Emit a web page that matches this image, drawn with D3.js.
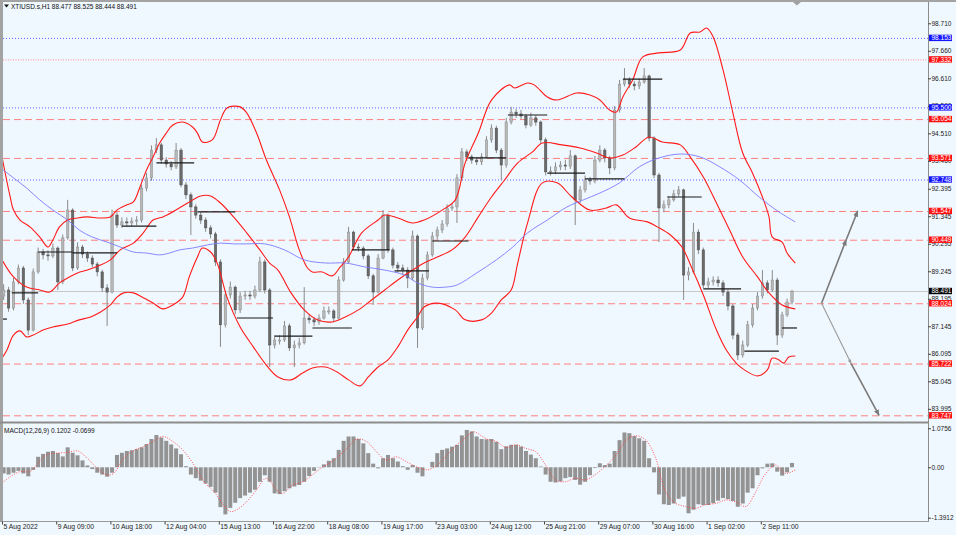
<!DOCTYPE html>
<html>
<head>
<meta charset="utf-8">
<script src="https://cdnjs.cloudflare.com/ajax/libs/d3/7.8.5/d3.min.js"></script>
<style>
	body { margin: 0; background: #f0f8ff; overflow: hidden; }
	text { font-family: "Liberation Sans", Arial, sans-serif; }
</style>
</head>
<body>
<div id="chart"></div>
<script>

// candles: one per 3 hourly bars (bar index = 3k+1)
var firstOpen = 88.30
var closes = [88.53,87.84,88.84,89.37,88.15,87.00,89.22,89.98,89.87,89.83,
	90.13,88.84,90.52,91.58,89.37,90.17,89.90,89.75,89.52,89.22,
	88.61,88.45,91.39,91.01,91.13,91.09,91.16,91.20,92.42,92.81,
	93.87,94.07,93.49,93.34,93.23,93.87,92.54,92.16,91.70,91.39,
	91.20,90.90,90.67,89.60,87.20,88.34,88.64,87.77,88.30,88.34,
	88.30,88.53,89.60,88.53,86.43,86.62,86.62,87.16,86.32,86.43,
	86.51,87.46,87.39,87.31,87.46,87.73,87.73,87.46,88.91,89.60,
	90.74,90.17,90.13,89.83,89.07,88.45,89.75,91.39,90.06,89.48,
	89.37,89.29,88.99,90.59,87.08,88.99,89.87,90.59,90.82,91.05,
	91.66,91.70,92.81,93.80,93.61,93.49,93.42,93.61,94.26,94.71,
	93.87,93.30,94.94,95.32,95.25,95.17,94.83,95.10,94.94,94.26,
	93.04,93.07,93.23,93.30,93.26,93.65,91.97,92.35,92.73,92.69,
	93.49,93.87,93.57,93.19,95.40,96.39,96.55,96.39,96.32,96.47,
	96.70,94.33,92.92,91.66,91.78,91.97,92.20,92.35,89.10,89.22,
	90.74,90.06,88.72,88.84,88.91,88.80,88.45,87.92,86.81,86.05,
	86.43,87.20,87.84,88.30,88.80,88.53,88.91,86.81,87.58,88.07,
	88.49]
var highs = [88.75,88.65,89.00,89.50,89.45,88.25,89.35,90.15,90.10,90.05,
	90.30,90.20,90.65,91.97,91.65,90.35,90.25,90.00,89.85,89.60,
	89.30,88.75,91.60,91.50,91.30,91.30,91.30,91.35,92.55,93.00,
	94.05,94.33,94.15,93.60,93.45,94.14,93.95,92.65,92.25,91.80,
	91.50,91.30,91.00,90.75,89.70,88.50,88.85,88.70,88.45,88.50,
	88.50,88.70,89.80,89.70,88.60,86.80,86.80,87.35,87.25,86.60,
	86.70,88.64,87.60,87.50,87.60,87.90,87.90,87.80,89.05,89.75,
	90.94,90.80,90.30,90.20,89.90,89.15,89.90,91.58,91.45,90.15,
	89.60,89.50,89.40,90.80,90.65,89.15,90.00,90.75,90.95,91.20,
	91.80,91.85,92.95,93.95,93.90,93.70,93.60,93.75,94.40,94.85,
	94.80,93.95,95.10,95.52,95.45,95.40,95.25,95.30,95.20,95.00,
	94.35,93.25,93.40,93.45,93.50,93.87,93.70,92.50,92.90,92.85,
	93.65,94.05,93.95,93.65,95.55,96.55,97.00,96.65,96.50,96.60,
	97.00,96.75,94.40,93.00,91.95,92.10,92.35,92.50,92.40,89.40,
	91.09,90.85,90.15,89.00,89.05,89.05,88.90,88.55,88.00,86.90,
	86.60,87.35,88.00,88.45,89.29,88.90,89.29,89.00,87.70,88.20,
	88.53]
var lows = [88.15,87.70,87.75,88.75,88.00,86.81,86.95,89.15,89.70,89.65,
	89.75,88.53,88.75,90.45,89.25,89.30,89.75,89.60,89.40,89.05,
	88.45,87.16,88.40,90.90,90.90,90.95,90.95,91.00,91.10,92.30,
	92.70,93.75,93.35,93.20,93.10,93.15,92.45,92.00,90.63,91.25,
	91.05,90.75,90.50,89.45,86.36,87.10,88.20,87.60,87.65,88.15,
	88.15,88.20,88.45,88.40,85.59,86.30,86.45,86.55,86.20,85.59,
	86.30,86.45,87.25,87.15,87.20,87.40,87.60,87.30,87.40,88.85,
	89.55,90.05,90.00,89.70,88.95,87.96,88.40,89.70,89.95,89.35,
	89.20,89.10,88.60,88.90,86.32,87.00,88.90,89.80,90.45,90.70,
	90.95,91.55,91.09,92.70,93.45,93.35,93.30,93.30,93.55,94.15,
	93.75,92.73,93.20,94.85,95.10,95.05,94.70,94.75,94.80,94.10,
	92.90,92.90,92.95,93.10,93.10,93.15,91.01,91.85,92.25,92.55,
	92.60,93.40,93.40,92.95,93.10,95.30,96.30,96.25,96.15,96.20,
	96.40,94.20,92.80,90.36,91.50,91.65,91.90,92.10,88.15,88.90,
	89.15,89.90,88.60,88.60,88.70,88.65,88.30,87.75,86.65,85.86,
	85.95,86.35,87.10,87.75,88.20,88.40,88.45,86.43,86.70,87.50,
	87.98]

// MACD histogram, same candles
var macd = [-0.17,-0.20,-0.15,-0.10,-0.17,-0.25,-0.07,0.29,0.37,0.43,
	0.45,0.39,0.30,0.55,0.40,0.33,0.19,0.05,-0.05,-0.15,
	-0.20,-0.26,-0.15,0.34,0.40,0.45,0.47,0.50,0.55,0.64,
	0.78,0.89,0.82,0.73,0.63,0.52,0.36,0.03,-0.20,-0.30,
	-0.37,-0.45,-0.54,-0.70,-1.10,-1.30,-1.12,-0.98,-0.85,-0.78,
	-0.70,-0.62,-0.40,-0.22,-0.40,-0.72,-0.74,-0.66,-0.58,-0.53,
	-0.49,-0.40,-0.24,-0.10,0.01,0.08,0.18,0.25,0.48,0.73,
	0.85,0.85,0.78,0.66,0.39,0.10,-0.03,0.25,0.34,0.25,
	0.16,0.03,-0.07,0.06,-0.15,-0.25,0.00,0.15,0.39,0.48,
	0.52,0.57,0.62,0.88,1.03,0.99,0.85,0.78,0.77,0.78,
	0.70,0.50,0.58,0.62,0.62,0.57,0.45,0.35,0.25,0.02,
	-0.20,-0.40,-0.42,-0.39,-0.30,-0.27,-0.35,-0.48,-0.40,-0.22,
	-0.02,0.11,0.06,0.10,0.45,0.75,0.96,0.94,0.86,0.80,
	0.73,0.25,-0.14,-0.75,-1.02,-1.04,-1.00,-0.87,-0.81,-1.27,
	-1.17,-1.02,-1.04,-1.04,-0.99,-0.92,-0.85,-0.88,-0.93,-1.09,
	-1.00,-0.70,-0.58,-0.22,-0.03,0.10,0.11,-0.12,-0.23,-0.14,
	0.12]

// [hourly bar, value]
var signal = [[0,-0.44],[5,-0.26],[11,-0.12],[17,-0.12],[21,0.06],[27,0.34],[33,0.39],[40,0.41],[46,0.45],[52,0.25],[58,-0.03],[64,-0.21],[68,-0.17],[74,0.25],[80,0.46],[86,0.57],[92,0.71],[98,0.85],[104,0.71],[110,0.48],[117,0.06],[123,-0.40],[129,-0.67],[135,-1.04],[139,-1.22],[143,-1.17],[149,-0.95],[155,-0.62],[161,-0.30],[167,-0.62],[171,-0.72],[177,-0.49],[183,-0.40],[189,-0.21],[194,-0.03],[201,0.16],[210,0.52],[216,0.78],[222,0.71],[228,0.43],[234,0.20],[240,0.29],[246,0.16],[252,0.02],[259,-0.07],[265,0.06],[271,0.34],[277,0.62],[283,0.85],[287,0.98],[295,0.78],[301,0.71],[307,0.54],[313,0.62],[319,0.52],[325,0.43],[331,0.06],[337,-0.35],[343,-0.40],[349,-0.30],[355,-0.35],[361,-0.21],[368,0.06],[374,0.34],[380,0.75],[386,0.87],[392,0.75],[398,0.25],[404,-0.67],[410,-0.99],[416,-1.08],[422,-1.13],[428,-1.04],[435,-0.99],[441,-0.90],[447,-0.96],[453,-1.08],[459,-0.67],[465,-0.17],[471,0.06],[477,-0.17],[483,-0.07]]

var bandUpper = [[0,93.61],[5,92.08],[7,91.58],[11,91.20],[17,90.94],[23,90.55],[28,90.17],[31,90.44],[35,90.94],[40,91.20],[46,91.28],[52,91.32],[60,91.28],[66,91.32],[70,91.58],[76,91.78],[80,91.89],[84,92.46],[88,93.11],[92,93.61],[96,94.14],[100,94.52],[104,94.83],[110,94.94],[116,94.75],[119,94.52],[122,94.18],[128,94.26],[133,95.02],[137,95.48],[145,95.52],[149,95.29],[155,94.52],[161,93.49],[169,92.35],[175,91.32],[181,90.06],[186,89.37],[189,89.22],[195,89.22],[201,89.07],[206,89.41],[211,89.79],[219,90.71],[229,91.20],[233,91.39],[241,91.28],[250,91.09],[257,91.20],[268,91.58],[276,91.97],[282,93.38],[290,94.52],[298,95.78],[309,96.36],[312,96.24],[320,96.43],[324,96.36],[332,95.90],[338,95.78],[350,96.05],[358,95.97],[364,95.78],[370,95.40],[374,95.32],[378,95.90],[384,96.55],[390,97.42],[400,97.58],[413,97.69],[419,98.34],[425,98.38],[429,98.53],[433,98.19],[439,96.93],[445,95.29],[451,93.76],[457,92.99],[463,92.08],[467,91.32],[469,90.55],[475,90.36],[478,89.94],[483,89.56]]
var bandMiddle = [[0,89.68],[7,89.03],[15,88.64],[23,88.53],[29,88.45],[35,88.80],[40,88.99],[46,89.18],[52,89.29],[60,89.48],[66,89.68],[72,90.06],[80,90.32],[86,90.71],[92,91.20],[98,91.32],[104,91.51],[113,91.85],[121,92.12],[127,92.12],[133,91.85],[141,91.32],[149,90.71],[157,90.06],[163,89.56],[168,89.29],[176,88.42],[184,87.77],[192,87.39],[201,87.31],[209,87.50],[217,87.77],[225,88.15],[233,88.53],[241,88.91],[250,89.29],[257,89.56],[265,89.79],[274,90.06],[282,90.55],[290,91.32],[298,92.08],[306,92.73],[314,93.38],[323,93.80],[329,94.14],[341,94.07],[352,93.95],[362,93.76],[370,93.57],[378,93.68],[386,93.99],[394,94.37],[402,94.18],[413,94.07],[419,93.61],[427,92.84],[435,91.85],[443,90.82],[451,89.79],[460,89.03],[467,88.42],[475,87.96],[483,87.81]]
var bandLower = [[0,85.93],[3,86.24],[7,86.81],[11,86.97],[15,86.74],[19,86.81],[25,87.00],[31,87.12],[40,87.23],[47,87.39],[54,87.50],[60,87.69],[66,87.96],[70,88.26],[74,88.42],[80,88.42],[86,88.23],[92,88.03],[98,87.81],[104,87.96],[110,88.26],[114,89.03],[119,89.79],[122,90.13],[127,89.98],[131,89.56],[137,88.26],[145,87.12],[153,86.36],[160,85.74],[168,85.21],[176,85.10],[183,85.36],[189,85.55],[197,85.59],[204,85.40],[211,85.10],[218,84.87],[223,85.21],[229,85.59],[235,85.86],[241,86.36],[247,87.00],[253,87.50],[257,87.88],[265,88.03],[276,87.77],[282,87.39],[292,87.39],[298,87.65],[304,88.15],[310,88.53],[314,89.56],[320,91.09],[329,92.62],[338,92.62],[347,92.08],[358,91.58],[368,91.66],[374,91.78],[382,91.28],[393,91.13],[399,90.94],[407,90.63],[414,90.17],[420,89.37],[427,88.34],[435,87.00],[441,86.24],[447,85.74],[452,85.48],[460,85.25],[466,85.48],[469,85.93],[473,85.86],[476,85.74],[479,85.97],[483,86.01]]
var movingAvg = [[0,93.15],[7,92.81],[15,92.42],[23,91.97],[31,91.58],[40,91.20],[47,90.82],[55,90.55],[64,90.36],[72,90.17],[80,89.98],[88,89.94],[96,89.87],[102,89.94],[108,90.06],[116,90.13],[125,90.25],[133,90.32],[141,90.29],[149,90.29],[160,90.29],[172,90.06],[184,89.68],[197,89.56],[209,89.56],[221,89.41],[233,89.29],[245,89.10],[253,88.80],[262,88.64],[270,88.64],[277,88.72],[289,89.18],[301,89.68],[311,90.17],[320,90.71],[332,91.20],[344,91.70],[354,91.97],[364,92.23],[376,92.62],[388,93.23],[400,93.57],[413,93.72],[425,93.61],[437,93.23],[449,92.73],[461,92.08],[473,91.51],[483,91.13]]

// daily level segments
var stepStart = [0,6,22,43,73,94,119,143,166,189,213,239,262,284,308,332,355,378,405,427,452,475]
var stepEnd   = [3,22,43,70,94,117,142,165,189,213,236,260,284,307,332,355,379,402,426,450,473,484]
var stepLevel = [87.42,88.42,89.98,89.95,90.97,93.38,91.51,87.46,86.77,87.08,90.06,89.26,90.40,93.57,95.21,92.99,92.77,96.58,92.08,88.57,86.20,87.08]

// horizontal levels
var levelVals  = [98.153, 97.332, 95.500, 95.054, 93.571, 92.748, 91.547, 90.449, 88.024, 85.722, 83.747]
var levelKinds = ["blue", "pink", "blue", "red", "red", "blue", "red", "red", "red", "red", "red"]
var lastPrice = 88.491

// projection arrows
var projBars = [499, 514, 521]
var projUp = [88.024, 90.449, 91.547]
var projDownBars = [499, 517, 534]
var projDown = [88.024, 85.722, 83.747]

var priceTicks = [98.710, 97.660, 96.610, 95.560, 94.510, 93.460, 92.395, 91.345, 90.295, 89.245, 88.195, 87.145, 86.095, 85.045, 83.995]
var timeTicks = [0, 33, 66, 99, 132, 165, 198, 231, 264, 297, 330, 363, 396, 429, 462]
var timeLabels = ["5 Aug 2022", "9 Aug 09:00", "10 Aug 18:00", "12 Aug 04:00", "15 Aug 13:00", "16 Aug 22:00", "18 Aug 08:00", "19 Aug 17:00", "23 Aug 03:00", "24 Aug 12:00", "25 Aug 21:00", "29 Aug 07:00", "30 Aug 16:00", "1 Sep 02:00", "2 Sep 11:00"]
var macdTicks = [1.0756, 0, -1.3912]
var macdTickLabels = ["1.0756", "0.00", "-1.3912"]


var W = 956, H = 535
var svg = d3.select("#chart")
	.append("svg")
	.attr("width", W)
	.attr("height", H)

svg.append("rect").attr("width", W).attr("height", H).attr("fill", "#f0f8ff")

var x = d3.scaleLinear().domain([0, 33]).range([2, 56.2])
var y = d3.scaleLinear().domain([83.995, 98.710]).range([408.8, 23.3])
var ym = d3.scaleLinear().domain([-1.3912, 1.0756]).range([517.7, 428.3])

var defs = svg.append("defs")
defs.append("clipPath").attr("id", "clipMain")
	.append("rect").attr("x", 3).attr("y", 3).attr("width", 925).attr("height", 418)
defs.append("clipPath").attr("id", "clipMacd")
	.append("rect").attr("x", 3).attr("y", 424).attr("width", 925).attr("height", 97)

function addMarker(id, color)
{
	defs.append("marker")
		.attr("id", id)
		.attr("viewBox", "0 0 10 10")
		.attr("refX", 9).attr("refY", 5)
		.attr("markerWidth", 4).attr("markerHeight", 4)
		.attr("orient", "auto")
		.append("path")
		.attr("d", "M0,1 L10,5 L0,9 Z")
		.attr("fill", color)
}
addMarker("arrDark", "#7a7a7a")
addMarker("arrLight", "#9a9a9a")

var main = svg.append("g").attr("clip-path", "url(#clipMain)")
var lower = svg.append("g").attr("clip-path", "url(#clipMacd)")

// levels
var levelStyle = {
	"blue": {"stroke": "#5c5cff", "dash": "1,2"},
	"pink": {"stroke": "#ff8c8c", "dash": "1,1.5"},
	"red":  {"stroke": "#ff8080", "dash": "7,4"}
}
main.selectAll(".level")
	.data(levelVals)
	.enter()
		.append("line")
		.attr("class", "level")
		.attr("x1", 3).attr("x2", 928)
		.attr("y1", function(d){return y(d) + 0.5;})
		.attr("y2", function(d){return y(d) + 0.5;})
		.attr("stroke", function(d, i){return levelStyle[levelKinds[i]].stroke;})
		.attr("stroke-dasharray", function(d, i){return levelStyle[levelKinds[i]].dash;})
		.attr("stroke-width", 1)

main.append("line")
	.attr("x1", 3).attr("x2", 928)
	.attr("y1", y(lastPrice) + 0.5).attr("y2", y(lastPrice) + 0.5)
	.attr("stroke", "#c8c8c8")

// candles
var candles = closes.map(function(c, k){
	return {"bar": 3 * k + 1, "o": k == 0 ? firstOpen : closes[k - 1], "h": highs[k], "l": lows[k], "c": c}
})

main.selectAll(".wick")
	.data(candles)
	.enter()
		.append("line")
		.attr("class", "wick")
		.attr("x1", function(d){return x(d.bar);})
		.attr("x2", function(d){return x(d.bar);})
		.attr("y1", function(d){return y(d.h);})
		.attr("y2", function(d){return y(d.l);})
		.attr("stroke", "#8a8a8a")
		.attr("stroke-width", 1)

main.selectAll(".body")
	.data(candles)
	.enter()
		.append("rect")
		.attr("class", "body")
		.attr("x", function(d){return x(d.bar) - 1.2;})
		.attr("width", 2.4)
		.attr("y", function(d){return y(Math.max(d.o, d.c));})
		.attr("height", function(d){return Math.max(1, Math.abs(y(d.o) - y(d.c)));})
		.attr("fill", function(d){return d.c >= d.o ? "#b8b8b8" : "#6a6a6a";})
		.attr("stroke", function(d){return d.c >= d.o ? "#8c8c8c" : "#4a4a4a";})
		.attr("stroke-width", 0.5)

// bollinger + ma
var bandLine = d3.line()
	.x(function(d){return x(d[0]);})
	.y(function(d){return y(d[1]);})
	.curve(d3.curveCatmullRom)

;[bandUpper, bandMiddle, bandLower].forEach(function(b){
	main.append("path")
		.attr("d", bandLine(b))
		.attr("fill", "none")
		.attr("stroke", "#ff1a1a")
		.attr("stroke-width", 1.1)
})

main.append("path")
	.attr("d", bandLine(movingAvg))
	.attr("fill", "none")
	.attr("stroke", "#7b7bff")
	.attr("stroke-width", 0.9)

// daily steps
main.selectAll(".step")
	.data(stepLevel)
	.enter()
		.append("line")
		.attr("class", "step")
		.attr("x1", function(d, i){return x(stepStart[i]);})
		.attr("x2", function(d, i){return x(stepEnd[i]);})
		.attr("y1", function(d){return y(d);})
		.attr("y2", function(d){return y(d);})
		.attr("stroke", "#1a1a1a")
		.attr("stroke-width", 1.2)

// projections
function drawProj(bars, vals, colors)
{
	for(var i = 0; i < bars.length - 1; i++)
	{
		main.append("line")
			.attr("x1", x(bars[i])).attr("y1", y(vals[i]))
			.attr("x2", x(bars[i + 1])).attr("y2", y(vals[i + 1]))
			.attr("stroke", colors[i] == "dark" ? "#7a7a7a" : "#9a9a9a")
			.attr("stroke-width", colors[i] == "dark" ? 1.6 : 1.1)
			.attr("marker-end", colors[i] == "dark" ? "url(#arrDark)" : "url(#arrLight)")
	}
}
drawProj(projBars, projUp, ["dark", "dark"])
drawProj(projDownBars, projDown, ["light", "dark"])

// macd
lower.selectAll(".hist")
	.data(macd)
	.enter()
		.append("rect")
		.attr("class", "hist")
		.attr("x", function(d, k){return x(3 * k + 1) - 2;})
		.attr("width", 4)
		.attr("y", function(d){return ym(Math.max(0, d));})
		.attr("height", function(d){return Math.abs(ym(d) - ym(0));})
		.attr("fill", "#939393")

lower.append("path")
	.attr("d", d3.line()
		.x(function(d){return x(d[0]);})
		.y(function(d){return ym(d[1]);})
		.curve(d3.curveCatmullRom)(signal))
	.attr("fill", "none")
	.attr("stroke", "#ff4040")
	.attr("stroke-width", 0.9)
	.attr("stroke-dasharray", "1,1.5")

// frames
svg.append("rect").attr("x", 0).attr("y", 0).attr("width", 3).attr("height", 522).attr("fill", "#a3a3a3")
svg.append("rect").attr("x", 0).attr("y", 0).attr("width", 956).attr("height", 2).attr("fill", "#a3a3a3")
svg.append("rect").attr("x", 0).attr("y", 421.5).attr("width", 928).attr("height", 2).attr("fill", "#8c8c8c")
svg.append("line").attr("x1", 0).attr("x2", 928).attr("y1", 521.5).attr("y2", 521.5).attr("stroke", "#9a9a9a")
svg.append("line").attr("x1", 928.5).attr("x2", 928.5).attr("y1", 2).attr("y2", 522).attr("stroke", "#8c8c8c")

// chart shift marker
svg.append("path")
	.attr("d", d3.line()([[x(484) - 4, 2], [x(484) + 4, 2], [x(484), 5.5]]) + "Z")
	.attr("fill", "#a0a0a0")

// axes
var axisY = svg.append("g")
	.attr("transform", "translate(928,0)")
	.call(d3.axisRight(y).tickValues(priceTicks).tickSize(3).tickFormat(d3.format(".3f")))
axisY.select(".domain").remove()
axisY.selectAll("line").attr("stroke", "#444")
axisY.selectAll("text").attr("x", 3.5).attr("fill", "#222")
axisY.attr("font-size", 6.5).attr("font-family", "Liberation Sans, Arial, sans-serif")

var axisM = svg.append("g")
	.attr("transform", "translate(928,0)")
	.call(d3.axisRight(ym).tickValues(macdTicks).tickSize(3).tickFormat(function(d, i){return macdTickLabels[i];}))
axisM.select(".domain").remove()
axisM.selectAll("line").attr("stroke", "#444")
axisM.selectAll("text").attr("x", 3.5).attr("fill", "#222")
axisM.attr("font-size", 6.5).attr("font-family", "Liberation Sans, Arial, sans-serif")

var axisX = svg.append("g")
	.attr("transform", "translate(0,521.5)")
	.call(d3.axisBottom(x).tickValues(timeTicks).tickSize(3).tickFormat(function(d, i){return timeLabels[i];}))
axisX.select(".domain").remove()
axisX.selectAll("line").attr("stroke", "#444")
axisX.selectAll("text").attr("text-anchor", "start").attr("x", 1).attr("y", 3).attr("fill", "#222")
axisX.attr("font-size", 6.8).attr("font-family", "Liberation Sans, Arial, sans-serif")

// level labels on the price axis
var boxColor = {"blue": "#1414ff", "pink": "#ff1010", "red": "#ff1010"}
var tags = svg.selectAll(".tag")
	.data(levelVals.concat([lastPrice]))
	.enter()
		.append("g")
		.attr("class", "tag")
		.attr("transform", function(d){return "translate(929," + y(d) + ")";})
tags.append("rect")
	.attr("x", 0).attr("y", -3.2)
	.attr("width", 23).attr("height", 6.4)
	.attr("fill", function(d, i){return i < levelKinds.length ? boxColor[levelKinds[i]] : "#000";})
tags.append("text")
	.attr("x", 2.5).attr("y", 2.3)
	.attr("font-size", 6.5)
	.attr("fill", "#fff")
	.text(function(d){return d3.format(".3f")(d);})

// titles
svg.append("path")
	.attr("d", "M4,4.5 L9,4.5 L6.5,7.5 Z")
	.attr("fill", "#111")
svg.append("text")
	.attr("x", 11).attr("y", 9)
	.attr("font-size", 6.5)
	.attr("fill", "#111")
	.text("XTIUSD.s,H1  88.477 88.525 88.444 88.491")
svg.append("text")
	.attr("x", 4).attr("y", 433)
	.attr("font-size", 6.5)
	.attr("fill", "#111")
	.text("MACD(12,26,9) 0.1202 -0.0699")

</script>
</body>
</html>
